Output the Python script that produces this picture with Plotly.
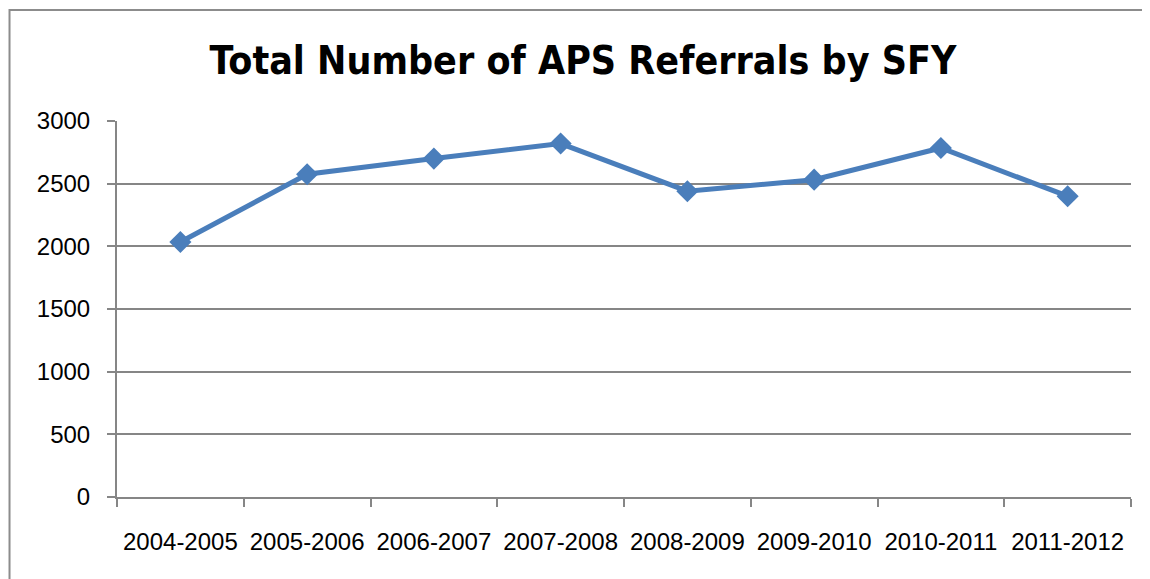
import plotly.graph_objects as go

# data
years = ["2004-2005", "2005-2006", "2006-2007", "2007-2008",
         "2008-2009", "2009-2010", "2010-2011", "2011-2012"]
referrals = [2035, 2575, 2700, 2820, 2440, 2532, 2785, 2400]
y_ticks = [0, 500, 1000, 1500, 2000, 2500, 3000]

line_blue = "#4A7EBB"
grid_grey = "#868686"

fig = go.Figure()

fig.add_trace(
    go.Scatter(
        x=years,
        y=referrals,
        mode="lines+markers",
        line=dict(color=line_blue, width=5),
        marker=dict(symbol="diamond", size=17, color=line_blue),
        showlegend=False,
    )
)

# outer chart border, like the Excel chart frame
fig.add_shape(
    type="rect", xref="paper", yref="paper",
    x0=-0.106, x1=1.04, y0=-0.3, y1=1.2952,
    line=dict(color="#8c8c8c", width=2),
)

fig.update_layout(
    width=1150,
    height=579,
    margin=dict(l=109, r=27, t=113, b=90),
    paper_bgcolor="white",
    plot_bgcolor="white",
    title=dict(
        text="Total Number of APS Referrals by SFY",
        x=0.5, xanchor="center",
        y=0.91, yanchor="middle",
        font=dict(family="DejaVu Sans Condensed", size=39, color="black", weight="bold"),
    ),
    font=dict(family="Liberation Sans", size=24, color="black"),
    xaxis=dict(
        type="category",
        showgrid=False,
        showline=True,
        linecolor=grid_grey,
        linewidth=2,
        ticks="outside",
        tickson="boundaries",
        ticklen=8,
        tickwidth=2,
        tickcolor=grid_grey,
        ticklabelstandoff=22,
        range=[-0.5, len(years) - 0.5],
    ),
    yaxis=dict(
        range=[0, 3000],
        tickvals=y_ticks,
        showgrid=True,
        gridcolor=grid_grey,
        gridwidth=2,
        showline=True,
        linecolor=grid_grey,
        linewidth=2,
        ticks="outside",
        ticklen=8,
        tickwidth=2,
        tickcolor=grid_grey,
        ticklabelstandoff=12,
        zeroline=False,
    ),
)

fig.write_html("out.html")
